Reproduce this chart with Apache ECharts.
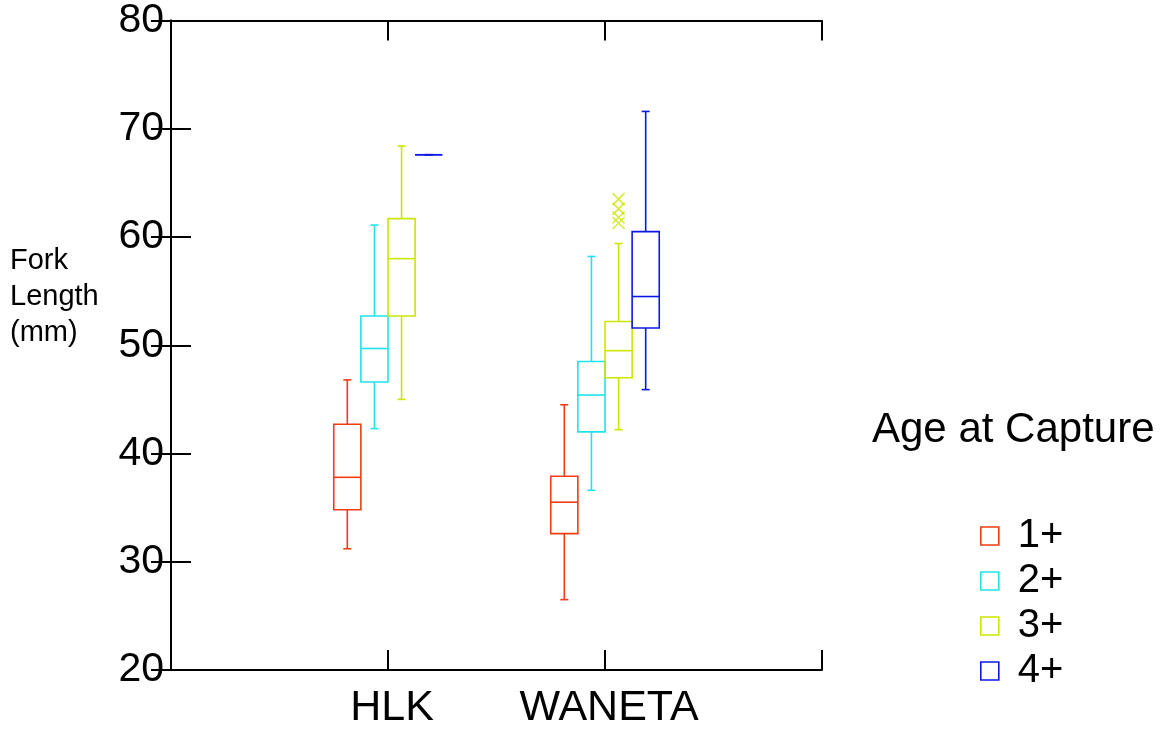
<!DOCTYPE html>
<html>
<head>
<meta charset="utf-8">
<script src="https://cdn.jsdelivr.net/npm/echarts@6/dist/echarts.min.js"></script>
<style>
  html, body { margin: 0; padding: 0; background: #fff; }
  #main { width: 1160px; height: 730px; }
</style>
</head>
<body>
<div id="main"></div>
<script>
// sites along the x axis (placed at 1, 2)
var sites = ['HLK', 'WANETA'];
var ages = ['1+', '2+', '3+', '4+'];
var colors = ['#f03c12', '#22e2ea', '#cce600', '#0c18e6'];

// [min, q1, median, q3, max] per site
var age1 = [[31.2, 34.8, 37.8, 42.7, 46.8], [26.5, 32.6, 35.5, 37.9, 44.5]];
var age2 = [[42.3, 46.6, 49.7, 52.7, 61.1], [36.6, 42.0, 45.4, 48.5, 58.2]];
var age3 = [[45.0, 52.7, 58.0, 61.7, 68.4], [42.2, 47.0, 49.5, 52.2, 59.4]];
var age4 = [[67.6, 67.6, 67.6, 67.6, 67.6], [45.9, 51.6, 54.5, 60.5, 71.6]];
var outliers3 = [[2, 63.5], [2, 62.6], [2, 61.8], [2, 61.3]];

var yTicks = [20, 30, 40, 50, 60, 70, 80];

var boxW = 0.125;  // box width in x units
var font = 'Liberation Sans, Arial, sans-serif';

var allAges = [age1, age2, age3, age4];

function boxSeries(i) {
  var off = (i - 1.5) * boxW;
  var col = colors[i];
  var rows = allAges[i].map(function (d, k) { return [k + 1].concat(d); });
  return {
    name: ages[i],
    type: 'custom',
    xAxisIndex: 0, yAxisIndex: 0,
    itemStyle: { color: col },
    renderItem: function (params, api) {
      var x = api.value(0) + off;
      var lo = api.coord([x, api.value(1)]);
      var q1 = api.coord([x, api.value(2)]);
      var md = api.coord([x, api.value(3)]);
      var q3 = api.coord([x, api.value(4)]);
      var hi = api.coord([x, api.value(5)]);
      var hw = api.size([boxW, 0])[0] / 2;
      var cx = lo[0];
      var st = { stroke: col, lineWidth: 1.6, fill: null };
      return {
        type: 'group',
        children: [
          { type: 'rect', shape: { x: cx - hw, y: q3[1], width: hw * 2, height: q1[1] - q3[1] }, style: st },
          { type: 'line', shape: { x1: cx - hw, y1: md[1], x2: cx + hw, y2: md[1] }, style: st },
          { type: 'line', shape: { x1: cx, y1: q3[1], x2: cx, y2: hi[1] }, style: st },
          { type: 'line', shape: { x1: cx, y1: q1[1], x2: cx, y2: lo[1] }, style: st },
          { type: 'line', shape: { x1: cx - 4, y1: hi[1], x2: cx + 4, y2: hi[1] }, style: st },
          { type: 'line', shape: { x1: cx - 4, y1: lo[1], x2: cx + 4, y2: lo[1] }, style: st }
        ]
      };
    },
    encode: { x: 0, y: [1, 2, 3, 4, 5] },
    data: rows
  };
}

var series = [0, 1, 2, 3].map(boxSeries);
series.push({
  name: '3+ outliers',
  type: 'scatter',
  xAxisIndex: 0, yAxisIndex: 0,
  symbol: 'path://M0,0L10,10M10,0L0,10',
  symbolSize: 12,
  symbolOffset: [(0.5 * boxW) * 217, 0],
  itemStyle: { color: 'none', borderColor: colors[2], borderWidth: 1.5 },
  data: outliers3
});

var myChart = echarts.init(document.getElementById('main'));
myChart.setOption({
  backgroundColor: '#fff',
  animation: false,
  grid: { left: 171, right: 338, top: 20, bottom: 60 },
  title: {
    text: 'Age at Capture',
    left: 867, top: 404,
    textStyle: { fontFamily: font, fontSize: 42, fontWeight: 'normal', color: '#000' }
  },
  legend: {
    data: ages.map(function (a, i) {
      return { name: a, icon: 'rect', itemStyle: { color: '#fff', borderColor: colors[i], borderWidth: 1.6 } };
    }),
    orient: 'vertical',
    left: 975, top: 511,
    itemWidth: 18, itemHeight: 18, itemGap: 5,
    textStyle: { fontFamily: font, fontSize: 40, color: '#000', padding: [0, 0, 0, 14] }
  },
  graphic: [{
    type: 'text', left: 10, top: 243,
    style: { text: 'Fork\nLength\n(mm)', font: '29px ' + font, lineHeight: 36, fill: '#000' }
  }],
  xAxis: [{
    type: 'value', min: 0, max: 3, interval: 1, position: 'bottom',
    axisLine: { lineStyle: { color: '#000', width: 2 } },
    axisTick: { inside: true, length: 20, lineStyle: { color: '#000', width: 2 } },
    axisLabel: {
      fontFamily: font, fontSize: 43, color: '#000', margin: 17, padding: [0, 0, 0, 8],
      formatter: function (v) { return sites[v - 1] || ''; }
    },
    splitLine: { show: false }
  }, {
    type: 'value', min: 0, max: 3, interval: 1, position: 'top',
    axisLine: { lineStyle: { color: '#000', width: 2 } },
    axisTick: { inside: true, length: 20, lineStyle: { color: '#000', width: 2 } },
    axisLabel: { show: false },
    splitLine: { show: false }
  }],
  yAxis: [{
    type: 'value', min: yTicks[0], max: yTicks[yTicks.length - 1], interval: 10,
    axisLine: { show: true, lineStyle: { color: '#000', width: 2 } },
    axisTick: { inside: true, length: 20, lineStyle: { color: '#000', width: 2 } },
    axisLabel: { fontFamily: font, fontSize: 41, color: '#000', margin: 7 },
    splitLine: { show: false }
  }, {
    type: 'value', min: yTicks[0], max: yTicks[yTicks.length - 1], interval: 10, position: 'right',
    axisLine: { show: true, lineStyle: { color: '#000', width: 2 } },
    axisTick: { inside: true, length: 20, lineStyle: { color: '#000', width: 2 } },
    axisLabel: { show: false },
    splitLine: { show: false }
  }],
  series: series
});
</script>
</body>
</html>
